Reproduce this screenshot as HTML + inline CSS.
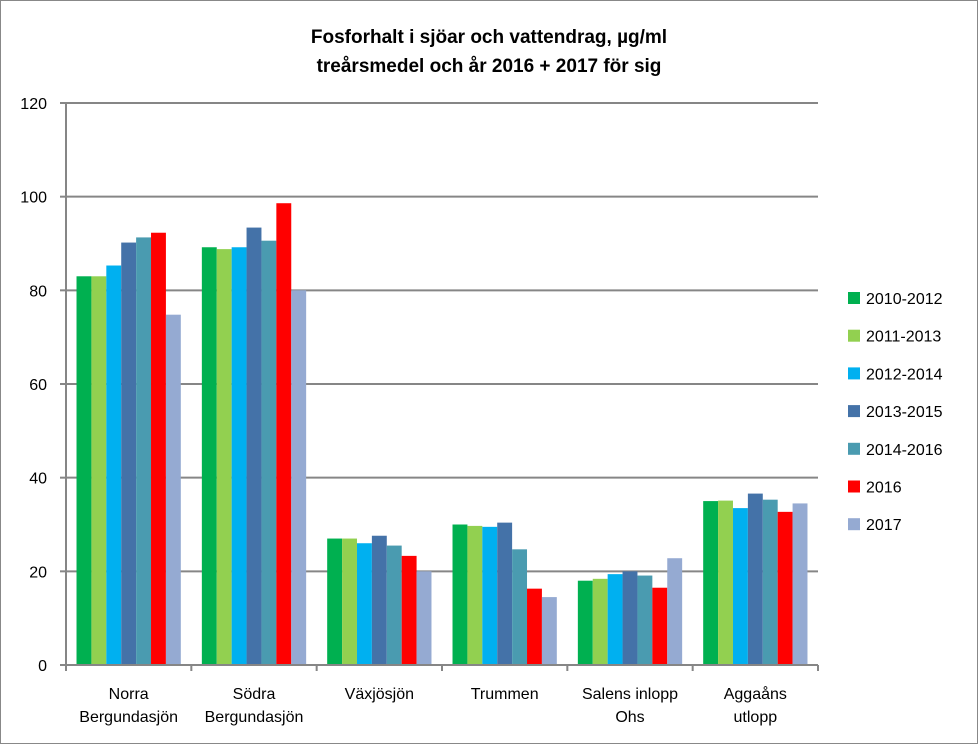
<!DOCTYPE html>
<html><head><meta charset="utf-8"><style>
body{margin:0;background:#fff}
svg text{font-family:"Liberation Sans",Arial,sans-serif}
</style></head><body>
<svg width="978" height="744" viewBox="0 0 978 744">
<rect x="0.5" y="0.5" width="977" height="743" fill="#fff" stroke="#888"/>
<text x="489" y="43" text-anchor="middle" font-size="19" font-weight="bold">Fosforhalt i sjöar och vattendrag, µg/ml</text>
<text x="489" y="72" text-anchor="middle" font-size="19" font-weight="bold">treårsmedel och år 2016 + 2017 för sig</text>
<g id="grid"></g><g id="bars"></g><g id="axes"></g><g id="legend"></g>
</svg>
<script>
const categories=[["Norra","Bergundasjön"],["Södra","Bergundasjön"],["Växjösjön"],["Trummen"],["Salens inlopp","Ohs"],["Aggaåns","utlopp"]];
const seriesNames=["2010-2012","2011-2013","2012-2014","2013-2015","2014-2016","2016","2017"];
const colors=["#00b050","#92d050","#00b0f0","#4472a8","#4a9bb0","#ff0000","#95aad2"];
const s2010=[83,89.2,27,30,18,35];
const s2011=[83,88.8,27,29.7,18.4,35.1];
const s2012=[85.3,89.2,26,29.5,19.4,33.5];
const s2013=[90.2,93.4,27.6,30.4,20,36.6];
const s2014=[91.3,90.6,25.5,24.7,19.1,35.3];
const s2016=[92.3,98.6,23.3,16.3,16.5,32.7];
const s2017=[74.8,80,20,14.5,22.8,34.5];
const series=[s2010,s2011,s2012,s2013,s2014,s2016,s2017];
const ticks=[0,20,40,60,80,100,120];
const NS="http://www.w3.org/2000/svg";
const L=66,R=818,T=103,B=665,ymax=120;
const y=v=>B-(v/ymax)*(B-T);
const gw=(R-L)/categories.length, bw=14.9, off=(gw-bw*7)/2;
function mk(p,t,a){const e=document.createElementNS(NS,t);for(const k in a)e.setAttribute(k,a[k]);p.appendChild(e);return e;}
const grid=document.getElementById('grid'),bars=document.getElementById('bars'),axes=document.getElementById('axes'),leg=document.getElementById('legend');
ticks.forEach(t=>{
 const l=mk(grid,'line',{x1:L,x2:R,y1:y(t),y2:y(t),stroke:'#868686','stroke-width':2});
 
 
 const tx=mk(axes,'text',{x:L-19,y:y(t)+6,'text-anchor':'end','font-size':16});
 tx.textContent=t;
 
 
 const tk=mk(axes,'line',{x1:L-6,x2:L,y1:y(t),y2:y(t),stroke:'#868686','stroke-width':2});
 
 
});
series.forEach((s,si)=>s.forEach((v,ci)=>{
 const r=mk(bars,'rect',{x:L+ci*gw+off+si*bw,y:y(v),width:bw,height:B-y(v),fill:colors[si]});
 
 
}));
const ya=mk(axes,'line',{x1:L,x2:L,y1:T,y2:B+6,stroke:'#868686','stroke-width':2});


const xa=mk(axes,'line',{x1:L-6,x2:R,y1:B,y2:B,stroke:'#868686','stroke-width':2});


categories.forEach((c,ci)=>{
 const tk=mk(axes,'line',{x1:L+(ci+1)*gw,x2:L+(ci+1)*gw,y1:B,y2:B+6,stroke:'#868686','stroke-width':2});
 
 
 c.forEach((ln,li)=>{
  const t=mk(axes,'text',{x:L+ci*gw+gw/2,y:699+li*23,'text-anchor':'middle','font-size':16});
  t.textContent=ln;
  
  
 });
});
seriesNames.forEach((n,i)=>{
 const yy=298+i*37.7;
 const r=mk(leg,'rect',{x:848,y:yy-6,width:12,height:12,fill:colors[i]});
 
 
 const t=mk(leg,'text',{x:866,y:yy+6,'font-size':16});
 t.textContent=n;
 
 
});
</script>
</body></html>
